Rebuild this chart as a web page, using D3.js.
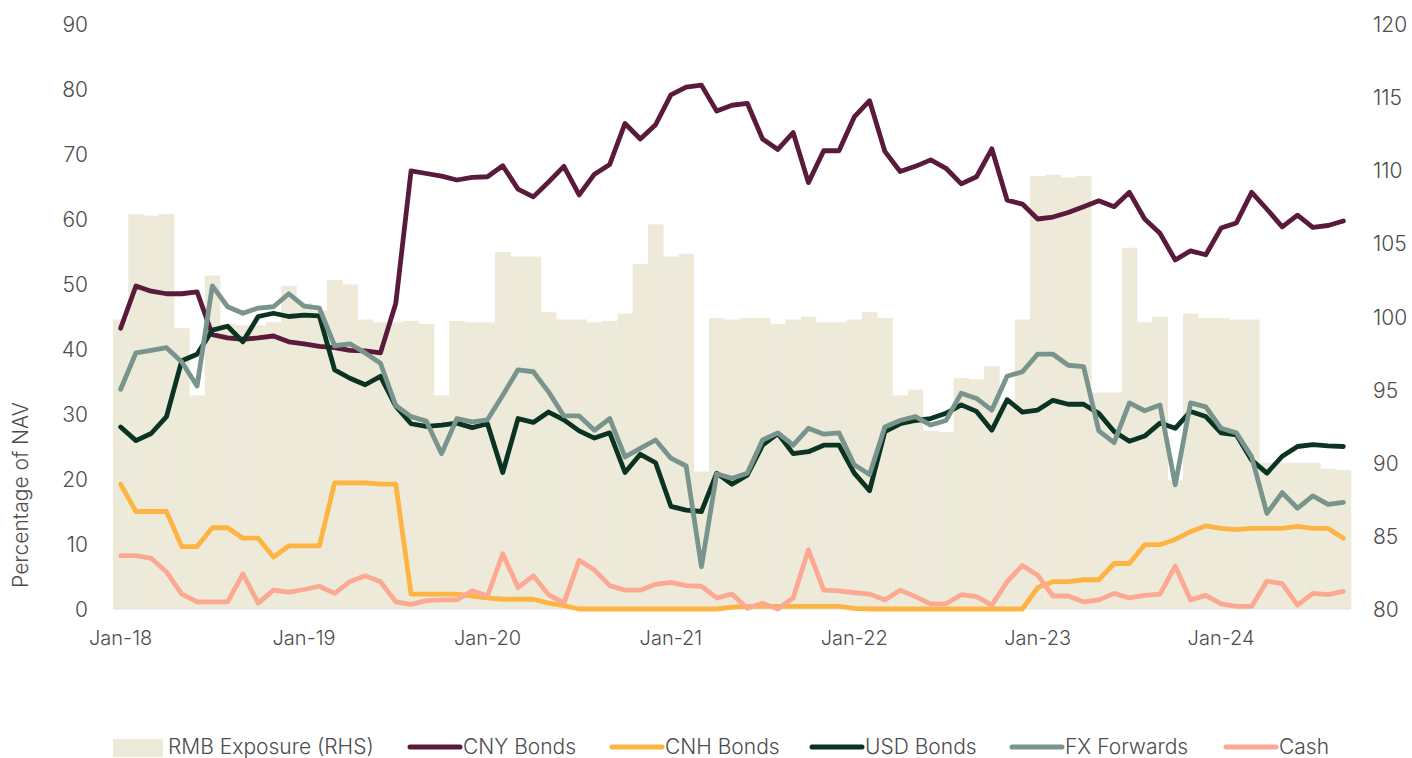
<!DOCTYPE html>
<html>
<head>
<meta charset="utf-8">
<script src="https://cdn.jsdelivr.net/npm/d3@7"></script>
<style>
  html, body { margin: 0; padding: 0; background: #fff; }
  svg text { font-family: Inter, "Open Sans", sans-serif; font-weight: 300; fill: #4d4d4d; }
</style>
</head>
<body>
<svg id="chart" width="1412" height="758"></svg>
<script>
// ---- Data (monthly, Jan-18 .. Sep-24) ----
const startMonth = new Date(2018, 0, 1);
const endMonth = new Date(2024, 9, 1);
const months = d3.timeMonth.range(startMonth, endMonth);
const xTickLabels = ["Jan-18", "Jan-19", "Jan-20", "Jan-21", "Jan-22", "Jan-23", "Jan-24"];
const leftTicks = [0, 10, 20, 30, 40, 50, 60, 70, 80, 90];
const rightTicks = [80, 85, 90, 95, 100, 105, 110, 115, 120];

const rmbExposure = [99.8,107.0,106.9,107.0,99.2,94.6,102.8,99.5,99.4,99.4,99.6,102.1,100.9,100.4,102.5,102.2,99.8,99.6,99.6,99.7,99.5,
  94.6,99.7,99.6,99.6,104.4,104.1,104.1,100.3,99.8,99.8,99.6,99.7,100.2,103.6,106.3,104.1,104.3,89.4,99.9,99.8,99.9,99.9,99.5,99.8,
  100.0,99.6,99.6,99.8,100.3,99.9,94.6,95.0,92.2,92.1,95.8,95.7,96.6,94.0,99.8,109.6,109.7,109.5,109.6,94.8,94.8,104.7,99.6,100.0,
  88.8,100.2,99.9,99.9,99.8,99.8,90.0,90.0,90.0,90.0,89.6,89.5];

const cnyBonds = [43.2,49.7,48.9,48.5,48.5,48.8,42.2,41.7,41.5,41.7,42.0,41.1,40.8,40.4,40.2,39.8,39.7,39.4,47.0,67.4,67.0,
  66.6,66.0,66.4,66.5,68.2,64.6,63.4,65.7,68.1,63.7,66.9,68.4,74.7,72.3,74.5,79.1,80.3,80.6,76.6,77.5,77.8,72.3,70.7,73.3,
  65.6,70.5,70.5,75.7,78.2,70.4,67.3,68.1,69.1,67.8,65.4,66.5,70.8,62.9,62.3,60.0,60.3,61.0,61.9,62.8,61.9,64.1,60.0,57.8,
  53.7,55.1,54.5,58.6,59.4,64.1,61.5,58.8,60.6,58.7,59.0,59.7];

const cnhBonds = [19.2,15.0,15.0,15.0,9.6,9.6,12.5,12.5,10.9,10.9,8.0,9.7,9.7,9.7,19.4,19.4,19.4,19.2,19.2,2.3,2.3,
  2.3,2.3,2.0,1.7,1.5,1.5,1.5,0.9,0.5,0,0,0,0,0,0,0,0,0,0,0.3,0.4,0.4,0.4,0.4,
  0.4,0.4,0.4,0.1,0,0,0,0,0,0,0,0,0,0,0,3.3,4.2,4.2,4.5,4.5,7.0,7.0,9.9,9.9,
  10.7,11.9,12.8,12.4,12.2,12.4,12.4,12.4,12.7,12.4,12.4,10.9];

const usdBonds = [28.0,25.9,27.0,29.6,38.2,39.2,42.9,43.5,41.1,45.0,45.5,45.0,45.2,45.1,36.8,35.5,34.5,35.8,31.2,28.5,28.1,
  28.3,28.6,27.9,28.5,21.0,29.3,28.7,30.3,29.1,27.4,26.3,27.1,21.0,23.8,22.5,15.8,15.2,15.0,20.9,19.2,20.6,25.2,27.0,23.9,
  24.2,25.2,25.2,20.9,18.2,27.3,28.5,29.0,29.3,30.1,31.4,30.4,27.5,32.2,30.3,30.6,32.1,31.5,31.5,30.1,27.3,25.8,26.6,28.6,
  27.8,30.4,29.6,27.1,26.8,22.9,20.9,23.5,25.0,25.3,25.1,25.0];

const fxForwards = [33.8,39.4,39.8,40.2,38.0,34.3,49.7,46.5,45.5,46.3,46.5,48.5,46.6,46.3,40.5,40.8,39.4,37.8,31.3,29.6,28.9,
  23.9,29.3,28.8,29.1,32.9,36.8,36.5,33.4,29.7,29.7,27.5,29.3,23.4,24.7,26.0,23.2,22.0,6.5,20.8,20.1,20.9,26.0,27.1,25.2,
  27.8,26.9,27.1,22.2,20.7,28.0,29.0,29.6,28.3,29.0,33.2,32.4,30.6,35.8,36.5,39.2,39.2,37.5,37.3,27.4,25.6,31.7,30.5,31.4,
  19.1,31.7,31.1,27.8,27.1,23.4,14.7,17.9,15.5,17.4,16.1,16.4];

const cash = [8.2,8.2,7.8,5.7,2.3,1.1,1.1,1.1,5.4,0.9,2.9,2.6,3.0,3.5,2.4,4.2,5.1,4.2,1.1,0.7,1.3,
  1.4,1.4,2.8,2.0,8.5,3.3,5.1,2.2,0.9,7.5,6.0,3.6,2.9,2.9,3.8,4.1,3.6,3.5,1.7,2.3,0.1,0.9,0.0,1.7,
  9.1,2.9,2.8,2.5,2.3,1.4,2.9,1.9,0.8,0.8,2.2,1.9,0.6,4.2,6.7,5.2,2.0,2.0,1.1,1.4,2.4,1.7,2.1,2.3,
  6.6,1.4,2.1,0.8,0.4,0.4,4.3,3.9,0.6,2.4,2.2,2.7];

const lineSeries = [
  { name: "CNY Bonds", values: cnyBonds, color: "#5A1A3C" },
  { name: "CNH Bonds", values: cnhBonds, color: "#FDB443" },
  { name: "USD Bonds", values: usdBonds, color: "#0B3322" },
  { name: "FX Forwards", values: fxForwards, color: "#78948D" },
  { name: "Cash", values: cash, color: "#FCA994" }
];
const barName = "RMB Exposure (RHS)";
const barColor = "#EDEADA";

// ---- Layout ----
const W = 1412, H = 758;
const margin = { top: 24, right: 61, bottom: 149, left: 113 };
const plotW = W - margin.left - margin.right;
const plotH = H - margin.top - margin.bottom;

const svg = d3.select("#chart");
const g = svg.append("g").attr("transform", `translate(${margin.left},${margin.top})`);

const fmt = d3.timeFormat("%b-%y");
const x = d3.scaleBand().domain(months.map(fmt)).range([0, plotW]).padding(0);
const yL = d3.scaleLinear().domain([0, 90]).range([plotH, 0]);
const yR = d3.scaleLinear().domain([80, 120]).range([plotH, 0]);

// Bars
g.append("g").selectAll("rect").data(rmbExposure).join("rect")
  .attr("x", (d, i) => x(fmt(months[i])))
  .attr("width", x.bandwidth() + 0.3)
  .attr("y", d => yR(d))
  .attr("height", d => yR(80) - yR(d))
  .attr("fill", barColor);

// baseline
g.append("line").attr("x1", 0).attr("x2", plotW).attr("y1", yL(0)).attr("y2", yL(0))
  .attr("stroke", "#e2e2e2").attr("stroke-width", 1);

// Lines
const cx = i => x(fmt(months[i])) + x.bandwidth() / 2;
lineSeries.forEach(s => {
  const line = d3.line().x((d, i) => cx(i)).y(d => yL(d));
  g.append("path").datum(s.values)
    .attr("d", line)
    .attr("fill", "none")
    .attr("stroke", s.color)
    .attr("stroke-width", 4.8)
    .attr("stroke-linejoin", "round")
    .attr("stroke-linecap", "round");
});

// Axes
const axL = d3.axisLeft(yL).tickValues(leftTicks).tickSize(0).tickPadding(25);
const gL = g.append("g").call(axL);
gL.select(".domain").remove();
gL.selectAll("text").style("font-size", "21px").attr("dy", "0.36em").style("font-family", null);

const axR = d3.axisRight(yR).tickValues(rightTicks).tickSize(0).tickPadding(22);
const gR = g.append("g").attr("transform", `translate(${plotW},0)`).call(axR);
gR.select(".domain").remove();
gR.selectAll("text").style("font-size", "21px").attr("dy", "0.36em").style("font-family", null);

const axB = d3.axisBottom(x).tickValues(months.map(fmt).filter(l => xTickLabels.includes(l))).tickSize(0).tickPadding(22);
const gB = g.append("g").attr("transform", `translate(0,${plotH})`).call(axB);
gB.select(".domain").remove();
gB.selectAll("text").style("font-size", "20px").style("font-family", null);

// Y title
svg.append("text")
  .attr("transform", `translate(28,495) rotate(-90)`)
  .attr("text-anchor", "middle")
  .style("font-size", "21px")
  .text("Percentage of NAV");

// Legend
const legendY = 746;
const legendItems = [
  { name: barName, type: "rect", color: barColor, x: 113 },
  { name: lineSeries[0].name, type: "line", color: lineSeries[0].color, x: 408 },
  { name: lineSeries[1].name, type: "line", color: lineSeries[1].color, x: 610 },
  { name: lineSeries[2].name, type: "line", color: lineSeries[2].color, x: 810 },
  { name: lineSeries[3].name, type: "line", color: lineSeries[3].color, x: 1010 },
  { name: lineSeries[4].name, type: "line", color: lineSeries[4].color, x: 1224 }
];
const lg = svg.append("g");
legendItems.forEach(it => {
  if (it.type === "rect") {
    lg.append("rect").attr("x", it.x).attr("y", legendY - 7).attr("width", 50).attr("height", 18).attr("fill", it.color);
    lg.append("text").attr("x", it.x + 55).attr("y", legendY).attr("dy", "0.36em").style("font-size", "21px").text(it.name);
  } else {
    lg.append("line").attr("x1", it.x + 2).attr("x2", it.x + 52).attr("y1", legendY + 1).attr("y2", legendY + 1)
      .attr("stroke", it.color).attr("stroke-width", 5).attr("stroke-linecap", "round");
    lg.append("text").attr("x", it.x + 55).attr("y", legendY).attr("dy", "0.36em").style("font-size", "21px").text(it.name);
  }
});
</script>
</body>
</html>
